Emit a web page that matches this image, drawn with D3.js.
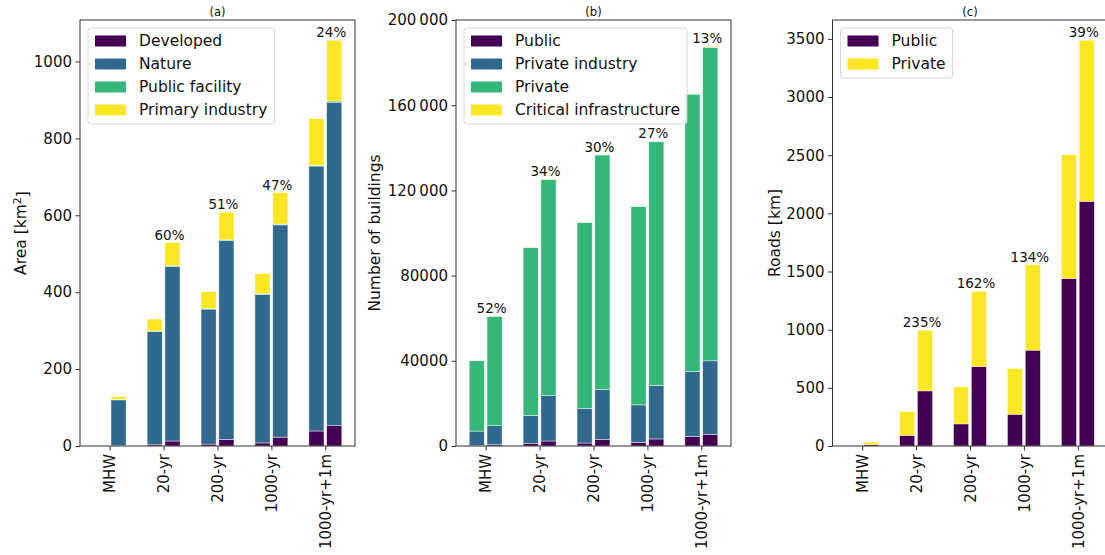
<!DOCTYPE html>
<html>
<head>
<meta charset="utf-8">
<script src="https://cdn.jsdelivr.net/npm/d3@7"></script>
<style>
  html, body { margin: 0; padding: 0; background: #fff; }
  svg { display: block; font-family: "DejaVu Sans", sans-serif; }
</style>
</head>
<body>
<svg id="chart" width="1105" height="555"></svg>
<script>
// Flood scenarios shared by all three panels
const scenarios = ["MHW", "20-yr", "200-yr", "1000-yr", "1000-yr+1m"];

// (a) Exposed area by land use [km²]; left bar = current, right bar = future
const developedNow     = [0, 3, 5, 8, 39];
const natureNow        = [0, 295, 351, 386, 689];
const facilityNow      = [0, 1, 1, 2, 2];
const primaryNow       = [0, 31, 45, 52, 121];
const developedFuture  = [1, 13, 17, 23, 53];
const natureFuture     = [119, 454, 517, 552, 841];
const facilityFuture   = [1, 2, 2, 2, 3];
const primaryFuture    = [7, 60, 72, 82, 158];
const areaTicks        = [0, 200, 400, 600, 800, 1000];

// (b) Exposed buildings by owner type
const publicBldNow       = [300, 1100, 1400, 1700, 4550];
const industryBldNow     = [6700, 13300, 16200, 17600, 30450];
const privateBldNow      = [33050, 78800, 87400, 93200, 130200];
const criticalBldNow     = [50, 100, 100, 100, 300];
const publicBldFuture    = [600, 2350, 3000, 3300, 5500];
const industryBldFuture  = [8960, 21350, 23500, 25100, 34500];
const privateBldFuture   = [51340, 101350, 110150, 114450, 147200];
const criticalBldFuture  = [100, 150, 150, 150, 400];
const buildingTicks      = [0, 40000, 80000, 120000, 160000, 200000];
const buildingTickLabels = ["0", "40000", "80000", "120\u2009000", "160\u2009000", "200\u2009000"];

// (c) Exposed road length [km]
const publicRoadNow      = [0, 92, 190, 273, 1441];
const privateRoadNow     = [0, 205, 318, 393, 1063];
const publicRoadFuture   = [11, 474, 683, 824, 2104];
const privateRoadFuture  = [23, 521, 647, 736, 1384];
const roadTicks          = [0, 500, 1000, 1500, 2000, 2500, 3000, 3500];

const viridis4 = ["#440154", "#31688e", "#35b779", "#fde725"];
const viridis2 = ["#440154", "#fde725"];

const svg = d3.select("#chart");
const TOP = 20, BOTTOM = 446, PW = 275;

function drawPanel(opts) {
  const { left, title, yLabel, yLabelX, series, yMax, ticks, tickLabels } = opts;
  const g = svg.append("g");

  const x = d3.scaleLinear().domain([-0.55, scenarios.length - 0.45]).range([left, left + PW]);
  const y = d3.scaleLinear().domain([0, yMax]).range([BOTTOM, TOP]);
  const barW = x(0.28) - x(0);
  const offset = 0.165;

  const keys = series.map(s => s.name);
  const rowsFor = which => scenarios.map((c, i) => {
    const r = { scenario: c, i };
    series.forEach(s => { r[s.name] = s[which][i]; });
    return r;
  });
  const stack = d3.stack().keys(keys);
  const totalsNow = scenarios.map((c, i) => d3.sum(series, s => s.now[i]));
  const totalsFuture = scenarios.map((c, i) => d3.sum(series, s => s.future[i]));

  [["now", -offset], ["future", offset]].forEach(([which, dx]) => {
    const layers = stack(rowsFor(which));
    layers.forEach((layer, k) => {
      g.append("g").selectAll("rect").data(layer).join("rect")
        .attr("x", d => x(d.data.i + dx) - barW / 2)
        .attr("width", barW)
        .attr("y", d => y(d[1]))
        .attr("height", d => Math.max(0, y(d[0]) - y(d[1])))
        .attr("fill", series[k].color)
        .attr("stroke", "#ffffff")
        .attr("stroke-width", 0.6)
        .attr("stroke-opacity", 0.7);
    });
  });

  // percentage increase of the future total over the current one
  const pct = d3.format(".0%");
  g.append("g").selectAll("text")
    .data(scenarios.map((c, i) => ({ i, now: totalsNow[i], fut: totalsFuture[i] })).filter(d => d.now > 0))
    .join("text")
    .attr("x", d => x(d.i + 0.11))
    .attr("y", d => y(d.fut) - 3)
    .attr("text-anchor", "middle")
    .attr("font-size", 13.5)
    .attr("fill", "#111")
    .text(d => pct(d.fut / d.now - 1));

  // axes
  const yAxis = d3.axisLeft(y).tickValues(ticks).tickSize(4.5).tickPadding(3.5)
    .tickFormat((d, i) => tickLabels ? tickLabels[i] : d);
  const ya = g.append("g").attr("transform", `translate(${left},0)`).call(yAxis);
  ya.select(".domain").remove();
  ya.selectAll("text").attr("font-size", 15).attr("font-family", "DejaVu Sans").attr("fill", "#111");
  ya.selectAll("line").attr("stroke", "#333");

  const xAxis = d3.axisBottom(x).tickValues(d3.range(scenarios.length)).tickSize(4.5).tickPadding(0)
    .tickFormat(i => scenarios[i]);
  const xa = g.append("g").attr("transform", `translate(0,${BOTTOM})`).call(xAxis);
  xa.select(".domain").remove();
  xa.selectAll("line").attr("stroke", "#333");
  xa.selectAll("text")
    .attr("font-size", 15).attr("font-family", "DejaVu Sans").attr("fill", "#111")
    .attr("transform", "rotate(-90)")
    .attr("x", -8).attr("y", 0).attr("dy", "0.35em")
    .attr("text-anchor", "end");

  // frame
  g.append("rect")
    .attr("x", left).attr("y", TOP).attr("width", PW).attr("height", BOTTOM - TOP)
    .attr("fill", "none").attr("stroke", "#333").attr("stroke-width", 1);

  // title
  g.append("text")
    .attr("x", left + PW / 2).attr("y", 15.5)
    .attr("text-anchor", "middle").attr("font-size", 11.5).attr("fill", "#111")
    .text(title);

  // y label
  const yl = g.append("text")
    .attr("transform", `translate(${yLabelX},${(TOP + BOTTOM) / 2}) rotate(-90)`)
    .attr("text-anchor", "middle").attr("font-size", 15.5).attr("fill", "#111");
  yLabel(yl);

  // legend
  const lg = g.append("g");
  const bx = left + 8, by = TOP + 8, rowH = 23;
  const box = lg.append("rect")
    .attr("x", bx).attr("y", by).attr("rx", 3).attr("ry", 3)
    .attr("fill", "#fff").attr("fill-opacity", 0.85)
    .attr("stroke", "#d6d6d6").attr("stroke-width", 1);
  let maxW = 0;
  series.forEach((s, k) => {
    const cy = by + 13 + k * rowH;
    lg.append("rect")
      .attr("x", bx + 7).attr("y", cy - 5.5).attr("width", 31).attr("height", 11)
      .attr("fill", s.color);
    const t = lg.append("text")
      .attr("x", bx + 51).attr("y", cy).attr("dy", "0.35em")
      .attr("font-size", 15.5).attr("fill", "#111")
      .text(s.name);
    maxW = Math.max(maxW, t.node().getComputedTextLength());
  });
  box.attr("width", 51 + maxW + 7).attr("height", 13 + (series.length - 1) * rowH + 14);
}

drawPanel({
  left: 80, title: "(a)", yLabelX: 26,
  yMax: d3.max(scenarios.map((c, i) => developedFuture[i] + natureFuture[i] + facilityFuture[i] + primaryFuture[i])) * 1.05,
  ticks: areaTicks,
  series: [
    { name: "Developed", color: viridis4[0], now: developedNow, future: developedFuture },
    { name: "Nature", color: viridis4[1], now: natureNow, future: natureFuture },
    { name: "Public facility", color: viridis4[2], now: facilityNow, future: facilityFuture },
    { name: "Primary industry", color: viridis4[3], now: primaryNow, future: primaryFuture }
  ],
  yLabel: t => {
    t.append("tspan").text("Area [km");
    t.append("tspan").attr("dy", "-0.45em").attr("font-size", 11).text("2");
    t.append("tspan").attr("dy", "0.45em").text("]");
  }
});

drawPanel({
  left: 456, title: "(b)", yLabelX: 380,
  yMax: 200000,
  ticks: buildingTicks, tickLabels: buildingTickLabels,
  series: [
    { name: "Public", color: viridis4[0], now: publicBldNow, future: publicBldFuture },
    { name: "Private industry", color: viridis4[1], now: industryBldNow, future: industryBldFuture },
    { name: "Private", color: viridis4[2], now: privateBldNow, future: privateBldFuture },
    { name: "Critical infrastructure", color: viridis4[3], now: criticalBldNow, future: criticalBldFuture }
  ],
  yLabel: t => t.text("Number of buildings")
});

drawPanel({
  left: 832.5, title: "(c)", yLabelX: 780,
  yMax: d3.max(scenarios.map((c, i) => publicRoadFuture[i] + privateRoadFuture[i])) * 1.05,
  ticks: roadTicks,
  series: [
    { name: "Public", color: viridis2[0], now: publicRoadNow, future: publicRoadFuture },
    { name: "Private", color: viridis2[1], now: privateRoadNow, future: privateRoadFuture }
  ],
  yLabel: t => t.text("Roads [km]")
});
</script>
</body>
</html>
